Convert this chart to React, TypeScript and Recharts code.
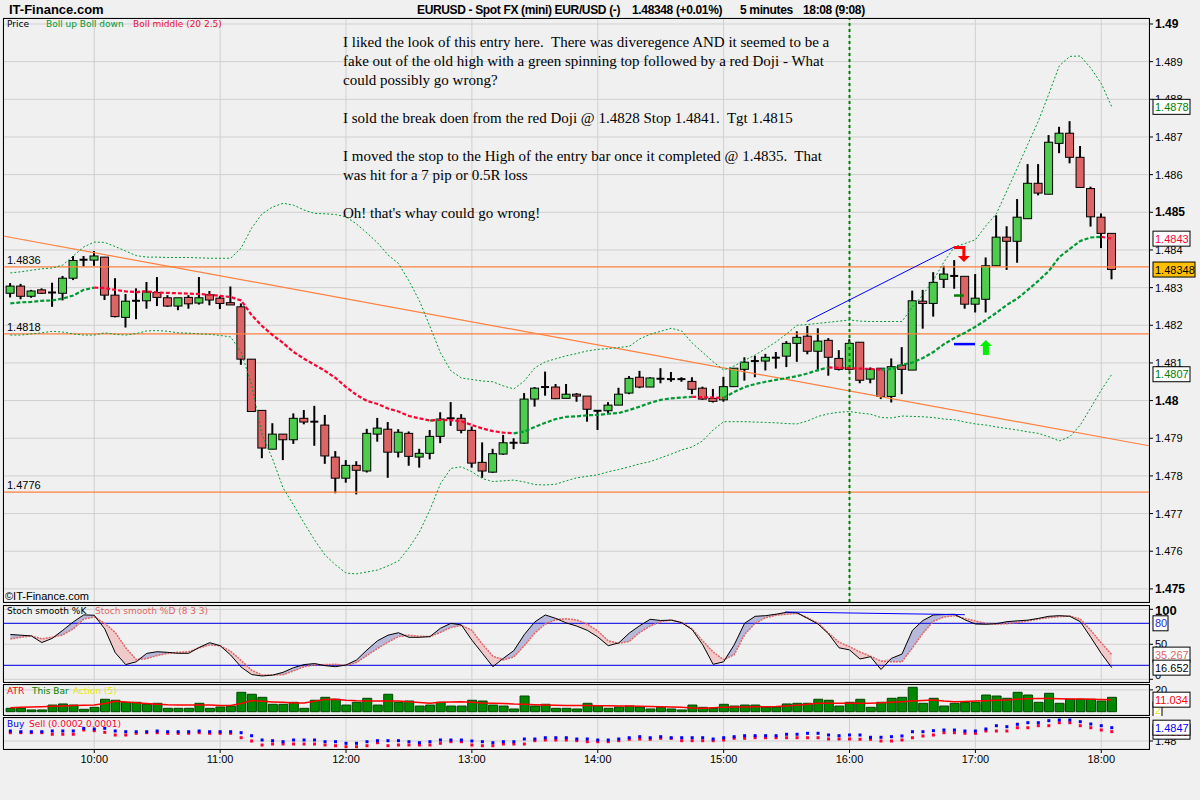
import React from 'react';
import {
  ComposedChart,
  Bar,
  Line,
  Area,
  Scatter,
  XAxis,
  YAxis,
  CartesianGrid,
  ReferenceLine,
  ReferenceDot,
} from 'recharts';

// ---------- DATA (5-minute EURUSD bars, 09:20 .. 18:05) ----------
const opens = [
  1.48285, 1.48304, 1.48277, 1.48294, 1.48287, 1.48285, 1.48325, 1.48374, 1.48373, 1.48381,
  1.4828, 1.48221, 1.48265, 1.48265, 1.48287, 1.48273, 1.48251, 1.48274, 1.48259, 1.48281,
  1.48272, 1.4826, 1.48249, 1.4811, 1.47974, 1.47871, 1.47911, 1.47896, 1.47953, 1.47944,
  1.47935, 1.4785, 1.47794, 1.47828, 1.47813, 1.47911, 1.47924, 1.47863, 1.47913, 1.4785,
  1.4786, 1.47905, 1.47953, 1.47953, 1.47921, 1.47836, 1.4781, 1.47858, 1.47888, 1.47887,
  1.48004, 1.48036, 1.48036, 1.48006, 1.48017, 1.48012, 1.47973, 1.47973, 1.47988, 1.4802,
  1.48062, 1.48036, 1.48058, 1.48057, 1.48057, 1.48051, 1.48033, 1.48006, 1.48002, 1.48037,
  1.48083, 1.48105, 1.48105, 1.48114, 1.48118, 1.48152, 1.48171, 1.48131, 1.4816, 1.48112,
  1.48083, 1.48155, 1.48057, 1.48086, 1.48011, 1.48094, 1.48081, 1.48264, 1.48258, 1.48322,
  1.48331, 1.4833, 1.48256, 1.48269, 1.48358, 1.48434, 1.48423, 1.48483, 1.48577, 1.48548,
  1.48683, 1.4871, 1.48646, 1.48563, 1.48487, 1.48444,
];
const highs = [
  1.48312, 1.4831, 1.48294, 1.48298, 1.48313, 1.48331, 1.48384, 1.48384, 1.48397, 1.48381,
  1.48325, 1.48283, 1.48298, 1.48315, 1.48328, 1.4828, 1.48273, 1.4828, 1.48328, 1.48291,
  1.48278, 1.48303, 1.48258, 1.4811, 1.47974, 1.4794, 1.47911, 1.47966, 1.47975, 1.47986,
  1.47962, 1.47866, 1.47842, 1.47839, 1.47925, 1.47954, 1.47943, 1.47924, 1.47918, 1.47872,
  1.47922, 1.47969, 1.47996, 1.47964, 1.47931, 1.47889, 1.47872, 1.47909, 1.479, 1.4802,
  1.48036, 1.48077, 1.48044, 1.48044, 1.4802, 1.48012, 1.47973, 1.47996, 1.48034, 1.48065,
  1.48079, 1.48062, 1.48086, 1.48076, 1.48062, 1.48062, 1.48037, 1.48031, 1.48063, 1.48086,
  1.48115, 1.48119, 1.48124, 1.48129, 1.48158, 1.48184, 1.48198, 1.48192, 1.48166, 1.48134,
  1.48163, 1.48155, 1.48088, 1.48086, 1.48112, 1.48142, 1.48292, 1.48294, 1.48341, 1.48358,
  1.48373, 1.4833, 1.48336, 1.4838, 1.48492, 1.48463, 1.48535, 1.48628, 1.48628, 1.48705,
  1.48727, 1.48742, 1.48676, 1.48568, 1.48497, 1.48444,
];
const lows = [
  1.48274, 1.48269, 1.48273, 1.48283, 1.48249, 1.48266, 1.4832, 1.48356, 1.48358, 1.48267,
  1.48221, 1.48194, 1.48216, 1.48244, 1.48251, 1.48249, 1.4824, 1.48244, 1.48255, 1.48253,
  1.48243, 1.48254, 1.48095, 1.47971, 1.47847, 1.47871, 1.47842, 1.47885, 1.47937, 1.4788,
  1.47832, 1.47754, 1.47782, 1.47751, 1.47809, 1.47891, 1.47795, 1.47849, 1.47827, 1.47822,
  1.47844, 1.47887, 1.47933, 1.47913, 1.47822, 1.47795, 1.47808, 1.47856, 1.47871, 1.47885,
  1.47984, 1.48013, 1.48004, 1.48006, 1.47997, 1.47944, 1.47922, 1.47964, 1.47988, 1.48017,
  1.48033, 1.48036, 1.48046, 1.4805, 1.4805, 1.48017, 1.48002, 1.47995, 1.47997, 1.48037,
  1.48053, 1.48062, 1.4808, 1.48085, 1.48089, 1.48103, 1.48123, 1.48078, 1.48066, 1.4808,
  1.4808, 1.48046, 1.48046, 1.48004, 1.47995, 1.48017, 1.48081, 1.48191, 1.48223, 1.48299,
  1.48297, 1.48244, 1.48234, 1.48234, 1.48358, 1.48347, 1.48366, 1.48483, 1.48545, 1.48548,
  1.48657, 1.4863, 1.48566, 1.48462, 1.48405, 1.48322,
];
const closes = [
  1.48304, 1.48277, 1.48291, 1.48285, 1.48287, 1.48325, 1.48372, 1.48374, 1.48384, 1.4828,
  1.48223, 1.48264, 1.48265, 1.48288, 1.48274, 1.48251, 1.48273, 1.48257, 1.48273, 1.48267,
  1.48258, 1.48254, 1.4811, 1.47971, 1.47874, 1.47911, 1.47896, 1.47953, 1.47943, 1.47944,
  1.47853, 1.47794, 1.47828, 1.47815, 1.47913, 1.47927, 1.47863, 1.47916, 1.47852, 1.4786,
  1.47905, 1.47951, 1.47953, 1.47921, 1.47834, 1.47813, 1.47859, 1.47888, 1.47888, 1.48004,
  1.48033, 1.48036, 1.48005, 1.48017, 1.48012, 1.47977, 1.47973, 1.47988, 1.48017, 1.48059,
  1.48036, 1.4806, 1.48058, 1.48057, 1.48057, 1.4803, 1.48004, 1.47998, 1.48037, 1.48086,
  1.48102, 1.48105, 1.48115, 1.48114, 1.48152, 1.48168, 1.48131, 1.48158, 1.48115, 1.48083,
  1.48152, 1.48054, 1.48083, 1.48011, 1.4809, 1.48083, 1.48265, 1.48258, 1.48314, 1.48336,
  1.48331, 1.48256, 1.48272, 1.48358, 1.48434, 1.48423, 1.48487, 1.48577, 1.48551, 1.48686,
  1.4871, 1.48646, 1.48566, 1.48488, 1.48444, 1.48348,
];
const bollUp = [
  1.48339, 1.48342, 1.48346, 1.4835, 1.48352, 1.4836, 1.48384, 1.48408, 1.48421, 1.4842,
  1.48409, 1.48397, 1.48385, 1.48381, 1.48381, 1.4838, 1.4838, 1.4838, 1.48379, 1.48378,
  1.48378, 1.48378, 1.48405, 1.48458, 1.48496, 1.48514, 1.48524, 1.48519, 1.48506, 1.48497,
  1.48496, 1.48494, 1.48488, 1.48469, 1.48445, 1.48419, 1.48387, 1.48364, 1.48318, 1.48265,
  1.48197, 1.48127, 1.48079, 1.4806, 1.48056, 1.48052, 1.4805, 1.48039, 1.48031, 1.48052,
  1.48087, 1.48103, 1.48111, 1.48119, 1.48125, 1.48132, 1.48136, 1.48138, 1.48141, 1.48144,
  1.48164, 1.48176, 1.48184, 1.48192, 1.48185, 1.48153, 1.48128, 1.48103, 1.48081, 1.48092,
  1.48107, 1.48121, 1.48138, 1.48156, 1.48177, 1.482, 1.48202, 1.48205, 1.48208, 1.48211,
  1.48214, 1.48211, 1.4821, 1.4821, 1.4821, 1.4821, 1.48249, 1.48281, 1.4832, 1.48368,
  1.48408, 1.48417, 1.48427, 1.48464, 1.48496, 1.48557, 1.48618, 1.48681, 1.48742, 1.48814,
  1.48889, 1.48914, 1.48915, 1.48883, 1.48842, 1.4878,
];
const bollDown = [
  1.48174, 1.48174, 1.48177, 1.4818, 1.48184, 1.48182, 1.48177, 1.48174, 1.48174, 1.4818,
  1.48176, 1.48174, 1.48178, 1.48185, 1.48186, 1.48184, 1.4818, 1.48179, 1.48177, 1.48176,
  1.48173, 1.48169, 1.48129, 1.48042, 1.47909, 1.47845, 1.47768, 1.47723, 1.47675, 1.4763,
  1.4759, 1.47564, 1.47542, 1.4754, 1.47545, 1.4755, 1.47561, 1.47574, 1.47609, 1.47651,
  1.4771, 1.47779, 1.4782, 1.47824, 1.47811, 1.47793, 1.47785, 1.47787, 1.47789, 1.47784,
  1.47777, 1.47776, 1.47778, 1.47787, 1.47795, 1.47799, 1.47803, 1.47811, 1.47817, 1.47824,
  1.47832, 1.47838, 1.47848, 1.47858, 1.47869, 1.47877, 1.47893, 1.47922, 1.47944, 1.47944,
  1.47944, 1.47943, 1.47942, 1.47941, 1.47939, 1.47938, 1.47946, 1.47958, 1.47965, 1.47969,
  1.47971, 1.47967, 1.47964, 1.47955, 1.47954, 1.47959, 1.47958, 1.47957, 1.47955, 1.47951,
  1.47949, 1.47943, 1.47938, 1.47935, 1.4793, 1.47926, 1.47922, 1.47917, 1.47913, 1.47904,
  1.47893, 1.47904, 1.47935, 1.47981, 1.48028, 1.4807,
];
const bollMid = [
  1.48258, 1.48261, 1.48262, 1.48265, 1.48266, 1.48271, 1.48279, 1.48294, 1.483, 1.48299,
  1.48294, 1.4829, 1.48288, 1.4829, 1.48287, 1.48286, 1.48285, 1.48284, 1.48283, 1.48281,
  1.48278, 1.48275, 1.48266, 1.48227, 1.48198, 1.48174, 1.48153, 1.48129, 1.48111, 1.48095,
  1.48079, 1.4806, 1.48036, 1.48015, 1.47999, 1.47991, 1.47979, 1.47971, 1.47959, 1.47953,
  1.47947, 1.47949, 1.47948, 1.47945, 1.47935, 1.47926, 1.47919, 1.47915, 1.47913, 1.47918,
  1.4793, 1.47941, 1.47951, 1.47957, 1.47958, 1.47961, 1.47962, 1.47965, 1.47967, 1.47975,
  1.47984, 1.47994, 1.48002, 1.48006, 1.48008, 1.4801, 1.48009, 1.48008, 1.48007, 1.48023,
  1.48036, 1.48044, 1.4805, 1.48055, 1.4806, 1.48065, 1.48072, 1.48081, 1.48088, 1.48087,
  1.48086, 1.48085, 1.48084, 1.48082, 1.48084, 1.48095, 1.48101, 1.48113, 1.48129, 1.4815,
  1.48166, 1.4818, 1.48196, 1.48214, 1.48233, 1.48254, 1.48271, 1.48294, 1.48318, 1.48344,
  1.48381, 1.48403, 1.48424, 1.48433, 1.48435, 1.4843,
];
const stochK = [
  64, 63, 62, 52.5, 58.5, 70, 82, 92, 91.5, 72,
  38, 21, 25, 37, 39.4, 38.5, 37.1, 37.1, 45.5, 52.3,
  48, 34.7, 17.5, 6.8, 4.7, 6, 10, 16.6, 21, 22.5,
  19.5, 18, 20.4, 27.6, 41.9, 55, 63, 66.5, 60, 60,
  61, 72.9, 80, 77.6, 56, 37.1, 18, 30, 41, 64,
  82, 91.9, 87, 80.5, 76, 70, 60.5, 48, 52, 66,
  76.6, 85.7, 84, 84.5, 81, 71, 49.5, 21.4, 25, 49,
  80, 90, 90.9, 93, 95.7, 95, 87, 79, 65, 45,
  42, 29, 32.3, 14, 30, 36, 70, 84, 91.9, 92.5,
  92.9, 85, 79, 78.6, 79.5, 82.3, 83.5, 84.5, 87, 90,
  90.9, 90, 82.3, 60, 37, 16.652,
];
const stochD = [
  57.5, 60, 62, 57.8, 60, 63.5, 72, 86, 89, 80,
  67, 45, 28, 29.5, 34, 37, 38.5, 39.4, 45, 49,
  48, 40, 27, 13, 6.1, 6.1, 6.5, 12, 18, 20.4,
  21, 21.4, 19.5, 24, 34, 44, 53, 61, 63, 61.5,
  61, 67, 74, 77, 70, 50, 33, 27.6, 32, 48,
  66, 79, 85, 86.5, 84.7, 79, 69, 55, 51.4, 54,
  67, 76, 82.3, 84.7, 81, 72, 55, 39, 28, 35,
  64, 80, 88, 91.5, 93, 94.3, 88, 80, 66, 53,
  46.6, 39, 33, 26, 25.1, 25.1, 45, 66, 83, 89,
  90.9, 87, 83.3, 80, 78.6, 79.5, 81, 83.5, 86, 88,
  89.5, 90.4, 86, 70, 52, 35.267,
];
const atrBars = [
  3.1, 3.1, 1.6, 1.6, 6.1, 7.1, 6.1, 2.2, 4.0, 11.4,
  10.5, 8.6, 8.6, 6.8, 7.7, 3.1, 3.1, 3.1, 7.7, 3.1,
  4.3, 5.2, 17.8, 16.0, 13.2, 6.8, 6.8, 8.6, 3.1, 10.5,
  13.2, 11.4, 6.1, 8.6, 12.3, 6.1, 16.0, 8.6, 9.8, 5.2,
  6.1, 8.6, 5.2, 5.2, 10.5, 9.8, 6.1, 5.2, 2.5, 14.4,
  5.2, 6.8, 3.1, 3.1, 2.5, 7.7, 5.5, 3.1, 4.3, 5.2,
  4.3, 2.5, 4.0, 2.5, 1.6, 6.1, 4.0, 3.1, 6.8, 5.2,
  6.1, 6.1, 4.3, 4.3, 7.1, 7.7, 7.7, 11.4, 10.5, 5.2,
  8.6, 11.4, 4.0, 8.6, 12.3, 13.2, 22.4, 7.7, 12.3, 5.2,
  7.7, 8.6, 8.6, 15.3, 14.4, 12.3, 17.8, 15.3, 8.6, 16.9,
  7.7, 11.4, 11.4, 11.4, 9.8, 13.2,
];
const atrLine = [
  3.7, 4.0, 4.3, 4.6, 5.0, 5.3, 5.6, 5.9, 6.1, 7.5,
  9.6, 9.0, 8.2, 7.5, 6.9, 6.3, 6.1, 6.1, 6.1, 6.1,
  5.8, 5.6, 7.5, 10.2, 9.6, 9.0, 8.6, 8.0, 7.9, 9.5,
  11.3, 11.5, 10.5, 10.0, 9.8, 9.8, 9.8, 9.8, 9.2, 8.4,
  7.8, 8.6, 9.0, 9.2, 8.6, 8.0, 7.7, 7.5, 7.0, 6.8,
  6.4, 6.1, 5.9, 5.8, 5.7, 5.6, 5.5, 5.4, 5.3, 5.2,
  5.0, 4.8, 4.6, 4.4, 4.0, 3.5, 3.1, 3.6, 4.0, 4.3,
  4.4, 4.5, 4.6, 4.7, 5.3, 6.0, 6.8, 7.7, 7.7, 7.7,
  7.7, 7.7, 7.7, 8.2, 8.6, 9.2, 9.8, 10.2, 10.7, 9.8,
  9.2, 9.4, 9.8, 10.1, 10.4, 10.8, 11.4, 11.9, 12.2, 12.0,
  11.9, 11.7, 11.6, 11.5, 11.2, 11.034,
];
const atrActionLast = 2;
const buyLevels = [
  1.48353, 1.48328, 1.48328, 1.48328, 1.48353, 1.48353, 1.48353, 1.48448, 1.48424, 1.48448,
  1.48353, 1.48328, 1.48328, 1.48328, 1.48353, 1.48328, 1.48328, 1.48328, 1.48353, 1.48328,
  1.48328, 1.48328, 1.48293, 1.48187, 1.48035, 1.48011, 1.47975, 1.48035, 1.48035, 1.48035,
  1.47975, 1.47975, 1.47919, 1.47919, 1.47975, 1.48011, 1.48011, 1.48011, 1.47975, 1.4794,
  1.47975, 1.48035, 1.48035, 1.48035, 1.48, 1.47975, 1.4794, 1.47975, 1.47975, 1.48071,
  1.48071, 1.48116, 1.48116, 1.48116, 1.48071, 1.48071, 1.48035, 1.48035, 1.48071, 1.48116,
  1.48152, 1.48116, 1.48152, 1.48116, 1.48116, 1.48116, 1.48116, 1.48071, 1.48116, 1.48152,
  1.48187, 1.48187, 1.48187, 1.48187, 1.48237, 1.48237, 1.48272, 1.48272, 1.48212, 1.48187,
  1.48212, 1.48212, 1.48131, 1.48131, 1.48152, 1.48177, 1.48328, 1.48328, 1.48364, 1.48388,
  1.48388, 1.48353, 1.48353, 1.48424, 1.4854, 1.48505, 1.4859, 1.48646, 1.48646, 1.48717,
  1.48741, 1.48741, 1.48681, 1.486, 1.4854, 1.4847,
];
const sellLevels = [
  1.48293, 1.48293, 1.48293, 1.48293, 1.48237, 1.48237, 1.48237, 1.48388, 1.48364, 1.48307,
  1.48212, 1.48212, 1.48272, 1.48293, 1.48293, 1.48272, 1.48272, 1.48272, 1.48293, 1.48272,
  1.48272, 1.48272, 1.48116, 1.48, 1.47859, 1.47894, 1.47894, 1.47894, 1.47894, 1.47894,
  1.47859, 1.47834, 1.47799, 1.47799, 1.47834, 1.4794, 1.47834, 1.47859, 1.47859, 1.47859,
  1.47859, 1.47919, 1.47975, 1.47975, 1.47859, 1.47834, 1.47834, 1.47894, 1.47894, 1.47894,
  1.48011, 1.48035, 1.48035, 1.48035, 1.48011, 1.47975, 1.47975, 1.47975, 1.48011, 1.4806,
  1.48071, 1.4806, 1.48095, 1.48095, 1.48011, 1.48011, 1.48011, 1.48011, 1.48035, 1.48095,
  1.48095, 1.48116, 1.48116, 1.48116, 1.48116, 1.48116, 1.48116, 1.48116, 1.48071, 1.48071,
  1.48071, 1.4806, 1.4806, 1.48, 1.48, 1.48035, 1.48116, 1.48177, 1.48212, 1.48293,
  1.48293, 1.48272, 1.48272, 1.48353, 1.48353, 1.48353, 1.48469, 1.48469, 1.4854, 1.4854,
  1.48646, 1.48646, 1.4854, 1.48469, 1.48388, 1.4833,
];

const hourTicks = [8, 20, 32, 44, 56, 68, 80, 92, 104];
const hourLabels = ['10:00', '11:00', '12:00', '13:00', '14:00', '15:00', '16:00', '17:00', '18:00'];
const priceTicks = [
  1.475, 1.476, 1.477, 1.478, 1.479, 1.48, 1.481, 1.482, 1.483, 1.484, 1.485, 1.486, 1.487,
  1.488, 1.489, 1.49,
];
const priceTickLabels = [
  '1.475', '1.476', '1.477', '1.478', '1.479', '1.48', '1.481', '1.482', '1.483', '1.484',
  '1.485', '1.486', '1.487', '1.488', '1.489', '1.49',
];
const majorPriceTicks = [1.475, 1.48, 1.485, 1.49];
const levelLines = [1.48355, 1.48177, 1.47757];
const levelLabels = ['1.4836', '1.4818', '1.4776'];
const trendLine = [
  { x: -0.7, y: 1.48437 },
  { x: 108.55, y: 1.4788 },
];
const priceDivergence = [
  { x: 75.92, y: 1.4821 },
  { x: 90.06, y: 1.48409 },
];
const stochDivergence = [
  { x: 73.85, y: 96.1 },
  { x: 90.99, y: 92.3 },
];
const stopMark = [
  { x: 89.96, y: 1.48279 },
  { x: 90.9, y: 1.48279 },
];
const targetMark = [
  { x: 89.96, y: 1.4815 },
  { x: 91.96, y: 1.4815 },
];
const sellArrow = { x: 90.9, y: 1.48368 };
const buyArrow = { x: 93, y: 1.48161 };
const entryLine = 80;
const stochTicks = [0, 50, 100];
const stochLevels = [20, 80];
const atrTicks = [20];
const bsTicks = [1.48];

const noteLines = [
  'I liked the look of this entry here.  There was diveregence AND it seemed to be a',
  'fake out of the old high with a green spinning top followed by a red Doji - What',
  'could possibly go wrong?',
  '',
  'I sold the break doen from the red Doji @ 1.4828 Stop 1.4841.  Tgt 1.4815',
  '',
  'I moved the stop to the High of the entry bar once it completed @ 1.4835.  That',
  'was hit for a 7 pip or 0.5R loss',
  '',
  "Oh! that's whay could go wrong!",
];

// ---------- layout constants ----------
const FONT = '"Liberation Sans", Arial, sans-serif';
const SMALL = '"DejaVu Sans", Verdana, sans-serif';
const XDOM: [number, number] = [-0.7, 108.55];
const N = opens.length;
const MAIN_Y: [number, number] = [1.474652, 1.490159];
const STOCH_Y: [number, number] = [-3.86, 104.71];
const ATR_Y: [number, number] = [-3.03, 24.5];
const BS_Y: [number, number] = [1.477176, 1.488119];

const midGreen = bollMid.map((v, i) =>
  (i > 0 && v >= bollMid[i - 1]) || (i < N - 1 && bollMid[i + 1] >= v) ? v : null
);
const midRed = bollMid.map((v, i) =>
  (i > 0 && v < bollMid[i - 1]) || (i < N - 1 && bollMid[i + 1] < v) ? v : null
);

const mainData = opens.map((o, i) => ({
  i,
  open: o,
  high: highs[i],
  low: lows[i],
  close: closes[i],
  range: [lows[i], highs[i]],
  up: bollUp[i],
  down: bollDown[i],
  midG: midGreen[i],
  midR: midRed[i],
}));
const stochData = stochK.map((k, i) => {
  const d = stochD[i];
  const hi = Math.max(k, d);
  return { i, k, d, upFill: [d, hi], dnFill: [k, hi] };
});
const atrData = atrBars.map((v, i) => ({ i, bar: v, avg: atrLine[i] }));
const bsData = buyLevels.map((b, i) => ({ i, buy: b, sell: sellLevels[i] }));

// ---------- shapes ----------
function Candle(props: any) {
  const { x, y, width, height, payload } = props;
  if (!payload || x == null) return null;
  const { open, close, high, low } = payload;
  const top = Math.min(y, y + height);
  const h = Math.abs(height);
  const cx = x + width / 2;
  const span = high - low;
  const py = (v: number) => (span > 0 ? top + ((high - v) / span) * h : top);
  const bTop = py(Math.max(open, close));
  const bBot = py(Math.min(open, close));
  const bw = 8;
  const doji = Math.abs(close - open) < 0.000015;
  return (
    <g>
      <line x1={cx} x2={cx} y1={top} y2={top + h} stroke="#000" strokeWidth={2} />
      {doji ? (
        <line x1={cx - bw / 2} x2={cx + bw / 2} y1={bTop} y2={bTop} stroke="#000" strokeWidth={2} />
      ) : (
        <rect
          x={cx - bw / 2}
          y={bTop}
          width={bw}
          height={Math.max(bBot - bTop, 1)}
          fill={close > open ? '#4dcc4d' : '#dc6464'}
          stroke="#000"
          strokeWidth={1}
        />
      )}
    </g>
  );
}

const makeBox = (text: string, color: string, bg: string, w: number) => (p: any) => (
  <g>
    <rect x={p.cx + 4} y={p.cy - 7.5} width={w} height={15} fill={bg} stroke="#000" strokeWidth={1} />
    <text x={p.cx + 6} y={p.cy + 4} fontSize={11} fontFamily={FONT} fill={color}>
      {text}
    </text>
  </g>
);

const SellArrowShape = (p: any) => (
  <g>
    <path
      d={`M${p.cx - 10} ${p.cy - 14.5} H${p.cx} V${p.cy - 6}`}
      stroke="#ff0000"
      strokeWidth={3}
      fill="none"
    />
    <path d={`M${p.cx - 6} ${p.cy - 6} L${p.cx + 6} ${p.cy - 6} L${p.cx} ${p.cy} Z`} fill="#ff0000" />
  </g>
);
const BuyArrowShape = (p: any) => (
  <g>
    <path d={`M${p.cx - 6} ${p.cy + 6} L${p.cx + 6} ${p.cy + 6} L${p.cx} ${p.cy} Z`} fill="#00ee00" />
    <rect x={p.cx - 3} y={p.cy + 6} width={6} height={9} fill="#00ee00" />
  </g>
);

const SquareDot = (p: any) =>
  p.cx == null ? null : <rect x={p.cx - 1.5} y={p.cy - 1.5} width={3} height={3} fill={p.fill} />;

const PriceTick = (props: any) => {
  const { x, y, payload } = props;
  const idx = priceTicks.indexOf(payload.value);
  const major = majorPriceTicks.includes(payload.value);
  return (
    <text
      x={x}
      y={y}
      dy={4}
      textAnchor="start"
      fontSize={major ? 12 : 11}
      fontWeight={major ? 'bold' : 'normal'}
      fontFamily={FONT}
      fill="#000"
    >
      {idx >= 0 ? priceTickLabels[idx] : ''}
    </text>
  );
};
const PlainTick = (props: any) => {
  const { x, y, payload } = props;
  const v = payload.value;
  const big = v === 100;
  const dy = big ? 6 : v === 0 ? 0 : 4;
  return (
    <text
      x={x}
      y={y}
      dy={dy}
      textAnchor="start"
      fontSize={big ? 13 : 11}
      fontWeight={big ? 'bold' : 'normal'}
      fontFamily={FONT}
      fill="#000"
    >
      {String(v)}
    </text>
  );
};

const LevelLabel = (props: any) => {
  const vb = props.viewBox || {};
  return (
    <text x={(vb.x || 0) + 4} y={(vb.y || 0) - 3} fontSize={11} fontFamily={FONT} fill="#000">
      {props.text}
    </text>
  );
};

const GRID = '#d0d0d0';

type BoxSpec = { y: number; text: string; color: string; bg: string; w: number };

function BoxOverlay(props: {
  height: number;
  margin: { top: number; right: number; bottom: number; left: number };
  yDomain: [number, number];
  boxes: BoxSpec[];
}) {
  return (
    <ComposedChart width={1200} height={props.height} data={[{ i: XDOM[0] }, { i: XDOM[1] }]} margin={props.margin}>
      <XAxis dataKey="i" type="number" domain={XDOM} allowDataOverflow hide />
      <YAxis
        orientation="right"
        width={51}
        type="number"
        domain={props.yDomain}
        allowDataOverflow
        tick={false}
        tickLine={false}
        axisLine={false}
      />
      {props.boxes.map((b, k) => (
        <ReferenceDot key={k} x={XDOM[1]} y={b.y} ifOverflow="visible" shape={makeBox(b.text, b.color, b.bg, b.w)} />
      ))}
    </ComposedChart>
  );
}

const mainBoxes: BoxSpec[] = [
  { y: bollUp[N - 1], text: bollUp[N - 1].toFixed(4), color: '#008000', bg: '#ffffff', w: 37 },
  { y: bollMid[N - 1], text: bollMid[N - 1].toFixed(4), color: '#ff0033', bg: '#ffffff', w: 37 },
  { y: closes[N - 1], text: closes[N - 1].toFixed(5), color: '#000000', bg: '#ffc000', w: 42 },
  { y: bollDown[N - 1], text: bollDown[N - 1].toFixed(4), color: '#008000', bg: '#ffffff', w: 37 },
];
const stochBoxes: BoxSpec[] = [
  { y: 80, text: '80', color: '#2a2ae6', bg: '#ffffff', w: 15 },
  { y: stochD[N - 1], text: stochD[N - 1].toFixed(3), color: '#e06666', bg: '#ffffff', w: 37 },
  { y: stochK[N - 1], text: stochK[N - 1].toFixed(3), color: '#000000', bg: '#ffffff', w: 37 },
];
const atrBoxes: BoxSpec[] = [
  { y: atrActionLast, text: String(atrActionLast), color: '#e6e600', bg: '#ffffff', w: 9 },
  { y: atrLine[N - 1], text: atrLine[N - 1].toFixed(3), color: '#ff0000', bg: '#ffffff', w: 37 },
];
const bsBoxes: BoxSpec[] = [
  { y: sellLevels[N - 1], text: sellLevels[N - 1].toFixed(4), color: '#ff0033', bg: '#ffffff', w: 37 },
  { y: buyLevels[N - 1], text: buyLevels[N - 1].toFixed(4), color: '#0000ff', bg: '#ffffff', w: 37 },
];

const M_MAIN = { top: 18, right: 0, bottom: 2, left: 3 };
const M_STOCH = { top: 1, right: 0, bottom: 1, left: 3 };
const M_ATR = { top: 1, right: 0, bottom: 1, left: 3 };

function MainChart() {
  return (
    <ComposedChart width={1200} height={604} data={mainData} margin={M_MAIN}>
      <CartesianGrid stroke={GRID} strokeWidth={1} />
      <XAxis dataKey="i" type="number" domain={XDOM} allowDataOverflow ticks={hourTicks} hide />
      <YAxis
        orientation="right"
        width={51}
        type="number"
        domain={MAIN_Y}
        allowDataOverflow
        ticks={priceTicks}
        interval={0}
        tick={<PriceTick />}
        tickLine={{ stroke: '#000' }}
        tickSize={4}
        axisLine={false}
      />
      <ReferenceLine segment={trendLine} stroke="#ff8040" strokeWidth={1.2} ifOverflow="visible" />
      {levelLines.map((v, k) => (
        <ReferenceLine key={'lv' + k} y={v} stroke="#ff8040" strokeWidth={1.2} label={<LevelLabel text={levelLabels[k]} />} />
      ))}
      <ReferenceLine x={entryLine} stroke="#008000" strokeWidth={2} strokeDasharray="3 3" />
      <Line dataKey="up" stroke="#009933" strokeWidth={1} strokeDasharray="2 2" dot={false} isAnimationActive={false} />
      <Line dataKey="down" stroke="#009933" strokeWidth={1} strokeDasharray="2 2" dot={false} isAnimationActive={false} />
      <Line dataKey="midG" stroke="#009933" strokeWidth={2.2} strokeDasharray="4 2" dot={false} isAnimationActive={false} />
      <Line dataKey="midR" stroke="#ff0033" strokeWidth={2.2} strokeDasharray="4 2" dot={false} isAnimationActive={false} />
      <Bar dataKey="range" barSize={8} shape={Candle} isAnimationActive={false} />
      <ReferenceLine segment={priceDivergence} stroke="#0000ff" strokeWidth={1} />
      <ReferenceLine segment={stopMark} stroke="#008000" strokeWidth={2.5} />
      <ReferenceLine segment={targetMark} stroke="#0000ff" strokeWidth={2.5} />
      <ReferenceDot x={sellArrow.x} y={sellArrow.y} ifOverflow="visible" shape={SellArrowShape} />
      <ReferenceDot x={buyArrow.x} y={buyArrow.y} ifOverflow="visible" shape={BuyArrowShape} />
    </ComposedChart>
  );
}

function StochChart() {
  return (
    <ComposedChart width={1200} height={78} data={stochData} margin={M_STOCH}>
      <CartesianGrid stroke={GRID} strokeWidth={1} />
      <XAxis dataKey="i" type="number" domain={XDOM} allowDataOverflow ticks={hourTicks} hide />
      <YAxis
        orientation="right"
        width={51}
        type="number"
        domain={STOCH_Y}
        allowDataOverflow
        ticks={stochTicks}
        interval={0}
        tick={<PlainTick />}
        tickLine={{ stroke: '#000' }}
        tickSize={4}
        axisLine={false}
      />
      {stochLevels.map((v) => (
        <ReferenceLine key={'sl' + v} y={v} stroke="#2a2ae6" strokeWidth={1.2} />
      ))}
      <Area dataKey="upFill" type="linear" fill="#b8b8da" fillOpacity={1} stroke="none" isAnimationActive={false} />
      <Area dataKey="dnFill" type="linear" fill="#f0caca" fillOpacity={1} stroke="none" isAnimationActive={false} />
      <Line dataKey="d" stroke="#e06666" strokeWidth={1.5} strokeDasharray="2 1" dot={false} isAnimationActive={false} />
      <Line dataKey="k" stroke="#000000" strokeWidth={1} dot={false} isAnimationActive={false} />
      <ReferenceLine segment={stochDivergence} stroke="#0000ff" strokeWidth={1} />
    </ComposedChart>
  );
}

function AtrChart() {
  return (
    <ComposedChart width={1200} height={32} data={atrData} margin={M_ATR}>
      <CartesianGrid stroke={GRID} strokeWidth={1} />
      <XAxis dataKey="i" type="number" domain={XDOM} allowDataOverflow ticks={hourTicks} hide />
      <YAxis
        orientation="right"
        width={51}
        type="number"
        domain={ATR_Y}
        allowDataOverflow
        ticks={atrTicks}
        interval={0}
        tick={<PlainTick />}
        tickLine={{ stroke: '#000' }}
        tickSize={4}
        axisLine={false}
      />
      <Bar dataKey="bar" barSize={9} fill="#008800" stroke="#004400" strokeWidth={1} isAnimationActive={false} />
      <Line dataKey="avg" stroke="#ff0000" strokeWidth={1.5} dot={false} isAnimationActive={false} />
    </ComposedChart>
  );
}

function BuySellChart() {
  return (
    <ComposedChart width={1200} height={62} data={bsData} margin={{ top: 1, right: 0, bottom: 0, left: 3 }}>
      <CartesianGrid stroke={GRID} strokeWidth={1} />
      <XAxis
        dataKey="i"
        type="number"
        domain={XDOM}
        allowDataOverflow
        ticks={hourTicks}
        interval={0}
        tickFormatter={(v: number) => hourLabels[hourTicks.indexOf(v)] || ''}
        tick={{ fontSize: 11, fill: '#000', fontFamily: FONT }}
        tickLine={{ stroke: '#000' }}
        tickSize={4}
        axisLine={false}
        height={30}
      />
      <YAxis
        orientation="right"
        width={51}
        type="number"
        domain={BS_Y}
        allowDataOverflow
        ticks={bsTicks}
        interval={0}
        tick={<PlainTick />}
        tickLine={{ stroke: '#000' }}
        tickSize={4}
        axisLine={false}
      />
      <Scatter dataKey="sell" fill="#ff0033" shape={SquareDot} isAnimationActive={false} />
      <Scatter dataKey="buy" fill="#0000ff" shape={SquareDot} isAnimationActive={false} />
    </ComposedChart>
  );
}

const abs = (left: number, top: number, extra: React.CSSProperties = {}): React.CSSProperties => ({
  position: 'absolute',
  left,
  top,
  whiteSpace: 'pre',
  ...extra,
});

const panelBox = (top: number, height: number): React.CSSProperties => ({
  position: 'absolute',
  left: 3,
  top,
  width: 1147,
  height,
  border: '1px solid #000',
  boxSizing: 'border-box',
  pointerEvents: 'none',
});

export default function App() {
  const hdr: React.CSSProperties = {
    fontFamily: FONT,
    fontWeight: 'bold',
    fontSize: 12,
    lineHeight: '12px',
    letterSpacing: '-0.35px',
    color: '#000',
  };
  const leg: React.CSSProperties = { fontFamily: SMALL, fontSize: 9, lineHeight: '9px' };
  return (
    <div
      style={{
        position: 'absolute',
        left: 0,
        top: 0,
        width: 1200,
        height: 800,
        background: '#f0f0f0',
        overflow: 'hidden',
      }}
    >
      <div style={abs(0, 0)}>
        <MainChart />
      </div>
      <div style={abs(0, 605)}>
        <StochChart />
      </div>
      <div style={abs(0, 684)}>
        <AtrChart />
      </div>
      <div style={abs(0, 717)}>
        <BuySellChart />
      </div>

      <div style={panelBox(18, 585)} />
      <div style={panelBox(605, 78)} />
      <div style={panelBox(684, 32)} />
      <div style={panelBox(717, 33)} />

      {/* value boxes drawn above the axes */}
      <div style={abs(0, 0)}>
        <BoxOverlay height={604} margin={M_MAIN} yDomain={MAIN_Y} boxes={mainBoxes} />
      </div>
      <div style={abs(0, 605)}>
        <BoxOverlay height={78} margin={M_STOCH} yDomain={STOCH_Y} boxes={stochBoxes} />
      </div>
      <div style={abs(0, 684)}>
        <BoxOverlay height={32} margin={M_ATR} yDomain={ATR_Y} boxes={atrBoxes} />
      </div>
      <div style={abs(0, 717)}>
        <BoxOverlay height={62} margin={{ top: 1, right: 0, bottom: 30, left: 3 }} yDomain={BS_Y} boxes={bsBoxes} />
      </div>

      {/* header */}
      <div style={abs(9, 3, { ...hdr, fontSize: 13, lineHeight: '13px', letterSpacing: '0px' })}>IT-Finance.com</div>
      <div style={abs(417, 4, hdr)}>EURUSD - Spot FX (mini) EUR/USD (-)</div>
      <div style={abs(632, 4, hdr)}>1.48348 (+0.01%)</div>
      <div style={abs(740, 4, hdr)}>5 minutes</div>
      <div style={abs(803, 4, hdr)}>18:08 (9:08)</div>

      {/* main legend */}
      <div style={abs(7, 20, { ...leg, color: '#000' })}>Price</div>
      <div style={abs(46, 20, { ...leg, color: '#009933' })}>Boll up Boll down</div>
      <div style={abs(133, 20, { ...leg, color: '#e8103c' })}>Boll middle (20 2.5)</div>
      <div style={abs(5, 591, { fontFamily: FONT, fontSize: 11, lineHeight: '11px', color: '#000' })}>©IT-Finance.com</div>

      {/* stoch legend */}
      <div style={abs(7, 607, { ...leg, color: '#000' })}>Stoch smooth %K</div>
      <div style={abs(95, 607, { ...leg, color: '#e06666' })}>Stoch smooth %D (8 3 3)</div>

      {/* ATR legend */}
      <div style={abs(7, 687, { ...leg, color: '#ff0000' })}>ATR</div>
      <div style={abs(32, 687, { ...leg, color: '#008000' })}>This Bar</div>
      <div style={abs(73, 687, { ...leg, color: '#e6e600' })}>Action (5)</div>

      {/* Buy Sell legend */}
      <div style={abs(7, 720, { ...leg, color: '#0000ff' })}>Buy</div>
      <div style={abs(29, 720, { ...leg, color: '#ff0033' })}>Sell (0.0002 0.0001)</div>

      {/* annotation */}
      <div
        style={abs(343, 33, {
          fontFamily: '"Liberation Serif", "Times New Roman", serif',
          fontSize: 15,
          lineHeight: '19px',
          color: '#000',
        })}
      >
        {noteLines.map((t, k) => (
          <div key={k} style={{ height: 19 }}>
            {t}
          </div>
        ))}
      </div>
    </div>
  );
}
